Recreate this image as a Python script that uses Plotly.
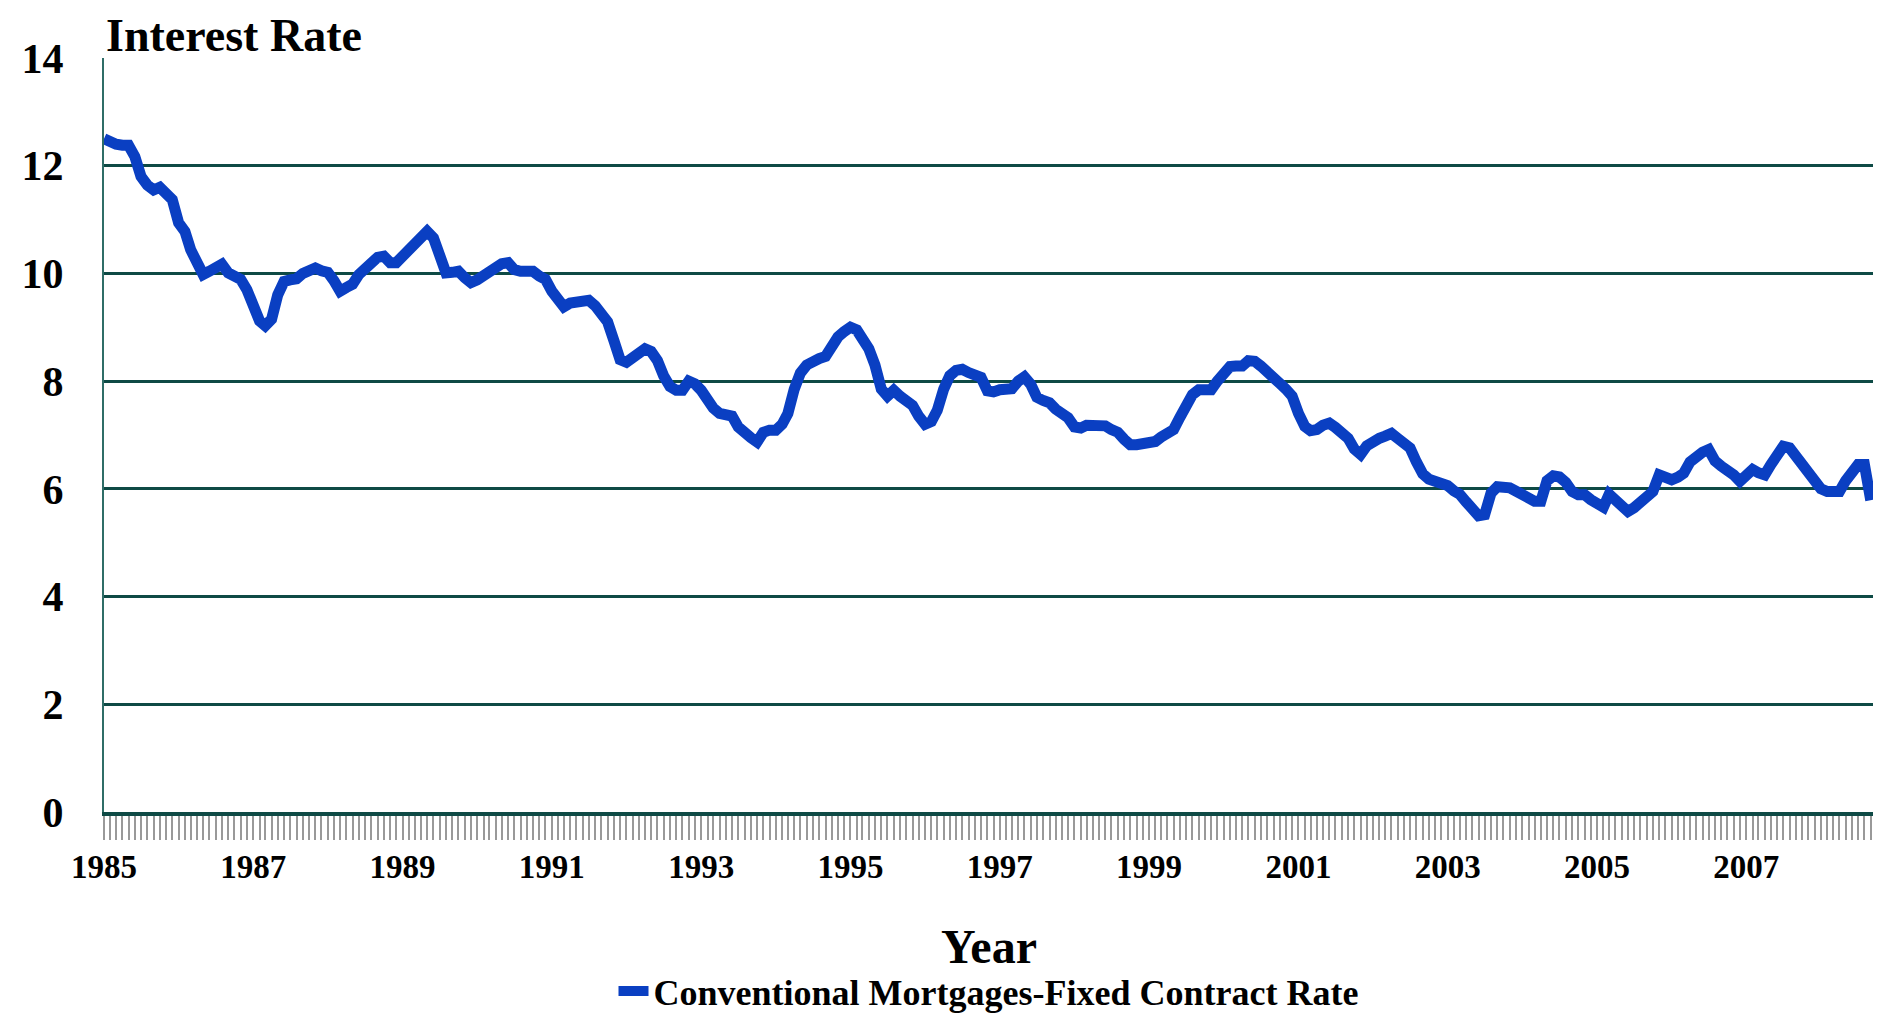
import pandas as pd
import plotly.graph_objects as go

# monthly contract rate (Jan 1985 .. Sep 2008)
r1985 = [12.50, 12.43, 12.40, 12.38, 12.38, 12.17, 11.80, 11.64, 11.55, 11.60, 11.49, 11.37]
r1986 = [10.94, 10.78, 10.44, 10.14, 9.98, 10.04, 10.12, 10.17, 10.01, 9.95, 9.89, 9.70]
r1987 = [9.34, 9.12, 9.03, 9.15, 9.60, 9.85, 9.88, 9.90, 10.00, 10.06, 10.10, 10.05]
r1988 = [10.02, 9.86, 9.67, 9.74, 9.80, 9.98, 10.10, 10.20, 10.30, 10.32, 10.20, 10.20]
r1989 = [10.33, 10.47, 10.57, 10.70, 10.78, 10.66, 10.32, 10.01, 10.02, 10.04, 9.92, 9.83]
r1990 = [9.88, 9.95, 10.06, 10.14, 10.18, 10.20, 10.07, 10.04, 10.04, 10.04, 9.95, 9.89]
r1991 = [9.67, 9.50, 9.38, 9.45, 9.48, 9.49, 9.50, 9.40, 9.25, 9.10, 8.75, 8.40]
r1992 = [8.35, 8.45, 8.55, 8.60, 8.55, 8.38, 8.10, 7.90, 7.83, 7.83, 8.00, 7.95]
r1993 = [7.83, 7.60, 7.50, 7.40, 7.40, 7.35, 7.15, 7.02, 6.95, 6.87, 7.05, 7.09]
r1994 = [7.09, 7.20, 7.40, 7.85, 8.15, 8.30, 8.38, 8.42, 8.46, 8.65, 8.82, 8.92]
r1995 = [9.00, 8.95, 8.80, 8.60, 8.30, 7.85, 7.72, 7.83, 7.72, 7.65, 7.55, 7.35]
r1996 = [7.20, 7.25, 7.46, 7.85, 8.10, 8.20, 8.22, 8.16, 8.14, 8.07, 7.82, 7.80]
r1997 = [7.84, 7.84, 7.86, 8.00, 8.08, 7.94, 7.70, 7.64, 7.60, 7.48, 7.40, 7.32]
r1998 = [7.15, 7.13, 7.18, 7.19, 7.18, 7.17, 7.10, 7.05, 6.92, 6.82, 6.82, 6.83]
r1999 = [6.86, 6.88, 6.96, 7.04, 7.10, 7.33, 7.60, 7.75, 7.84, 7.84, 7.84, 8.00]
r2000 = [8.17, 8.27, 8.28, 8.28, 8.38, 8.37, 8.28, 8.15, 8.02, 7.96, 7.85, 7.72]
r2001 = [7.40, 7.16, 7.08, 7.10, 7.18, 7.22, 7.14, 7.06, 6.94, 6.74, 6.64, 6.80]
r2002 = [6.90, 6.94, 6.98, 7.03, 6.94, 6.85, 6.76, 6.50, 6.28, 6.18, 6.14, 6.10]
r2003 = [6.06, 5.96, 5.90, 5.76, 5.62, 5.50, 5.52, 5.92, 6.04, 6.04, 6.02, 5.96]
r2004 = [5.90, 5.80, 5.77, 5.77, 6.15, 6.24, 6.22, 6.12, 5.95, 5.89, 5.89, 5.80]
r2005 = [5.72, 5.66, 5.90, 5.80, 5.68, 5.58, 5.65, 5.76, 5.82, 5.95, 6.26, 6.22]
r2006 = [6.17, 6.22, 6.29, 6.50, 6.62, 6.68, 6.73, 6.52, 6.42, 6.36, 6.26, 6.14]
r2007 = [6.26, 6.36, 6.30, 6.26, 6.45, 6.64, 6.79, 6.76, 6.60, 6.48, 6.34, 6.15]
r2008 = [6.00, 5.95, 5.95, 5.95, 6.15, 6.35, 6.45, 6.45, 5.79]

rates = (r1985 + r1986 + r1987 + r1988 + r1989 + r1990 + r1991 + r1992 + r1993
         + r1994 + r1995 + r1996 + r1997 + r1998 + r1999 + r2000 + r2001 + r2002
         + r2003 + r2004 + r2005 + r2006 + r2007 + r2008)
months = pd.date_range("1985-01-01", periods=len(rates), freq="MS")

serif = "Liberation Serif, Times New Roman, serif"
grid_col = "#0e4a45"

fig = go.Figure()
fig.add_trace(go.Scatter(x=months, y=rates, mode="lines",
                         name="Conventional Mortgages-Fixed Contract Rate",
                         line=dict(color="#0a3fc2", width=11)))

# page body adds an 8px margin, so the figure is 16px smaller than the window
fig.update_layout(
    width=1865, height=1013,
    margin=dict(l=96, r=0, t=50, b=209, autoexpand=False),
    paper_bgcolor="white", plot_bgcolor="white",
    font=dict(family=serif, color="black", weight="bold"),
    showlegend=True,
    legend=dict(orientation="h", x=0.5, xanchor="center", y=-0.2772, yanchor="bottom",
                font=dict(size=36, family=serif, weight="bold")),
)

fig.update_xaxes(
    range=["1985-01-01", "2008-09-12"], automargin=False,
    tick0="1985-01-01", dtick="M24", tickformat="%Y",
    ticks="outside", ticklen=24, tickwidth=2, tickcolor="#999999",
    minor=dict(dtick="M1", ticks="outside", ticklen=24, tickwidth=2, tickcolor="#999999"),
    tickfont=dict(size=33, family=serif, weight="bold"),
    ticklabelstandoff=-2,
    showgrid=False, showline=True, linecolor=grid_col, linewidth=4,
)
fig.update_yaxes(
    range=[0, 14], dtick=2, automargin=False,
    tickfont=dict(size=42, family=serif, weight="bold"),
    ticklabelstandoff=30,
    showgrid=True, gridcolor=grid_col, gridwidth=3, zeroline=False,
    showline=True, linecolor="#2f6d67", linewidth=2, mirror=True,
)

fig.add_annotation(text="Interest Rate", xref="paper", yref="paper", x=0.0, y=1.0663,
                   xanchor="left", yanchor="top", showarrow=False,
                   font=dict(size=46, family=serif, weight="bold"))
fig.add_annotation(text="Year", xref="paper", yref="paper", x=0.5, y=-0.179,
                   xanchor="center", yanchor="middle", showarrow=False,
                   font=dict(size=48, family=serif, weight="bold"))

fig.write_html("out.html")
